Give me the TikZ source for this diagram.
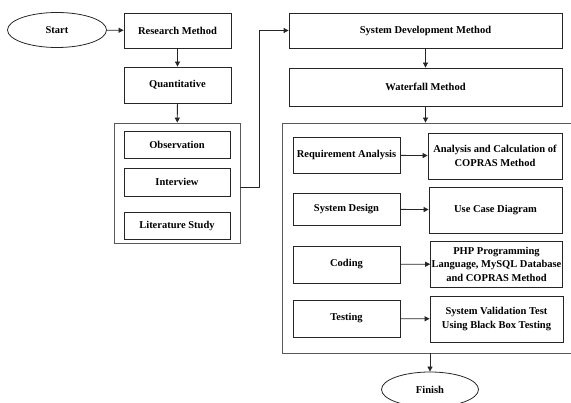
\documentclass[tikz,border=0pt]{standalone}
\usepackage{fontspec}
\setmainfont{Liberation Serif}
\usetikzlibrary{arrows.meta, positioning, shapes.geometric}

\begin{document}
\begin{tikzpicture}[
    x=1pt, y=-1pt,
    box/.style={draw=black!85, line width=0.8pt, minimum width=107pt, minimum height=36pt, inner sep=1pt, align=center, font=\fontsize{10.5}{13.5}\selectfont\bfseries},
    wide/.style={box, minimum width=133pt, minimum height=46pt},
    terminal/.style={ellipse, draw=black!85, line width=0.8pt, minimum width=99pt, minimum height=35pt, inner sep=0pt, font=\fontsize{10.5}{13.5}\selectfont\bfseries},
    group/.style={draw=black!65, line width=0.8pt},
    arrow/.style={-{Triangle[length=5pt, width=5pt]}, line width=0.8pt, black!85}
]
    \useasboundingbox (0,0) rectangle (571,403);

    % Left column
    \node[terminal] (start) at (57,30) {Start};
    \node[box, minimum height=35pt] (research) at (177.5,30.5) {Research Method};
    \node[box] (quant) at (177.5,85) {Quantitative};
    \node[group, minimum width=126pt, minimum height=120pt] (collect) at (177,183) {};
    \node[box, minimum width=106pt, minimum height=27pt] (observe) at (177,144.5) {Observation};
    \node[box, minimum width=106pt, minimum height=28pt] (interview) at (177,182) {Interview};
    \node[box, minimum width=106pt, minimum height=27pt] (literature) at (177,225.5) {Literature Study};

    % Right column
    \node[box, minimum width=273pt, minimum height=35pt] (sysdev) at (425.5,30.5) {System Development Method};
    \node[box, minimum width=273pt, minimum height=38pt] (waterfall) at (425.5,87) {Waterfall Method};
    \node[group, minimum width=308pt, minimum height=230pt] (phases) at (436,238) {};

    % Waterfall phases
    \node[box] (reqan) at (346.5,155) {Requirement Analysis};
    \node[wide, minimum width=134pt] (copras) at (495,156) {Analysis and Calculation of\\COPRAS Method};
    \node[box, minimum height=32pt] (design) at (346.5,209) {System Design};
    \node[wide] (usecase) at (495.5,210) {Use Case Diagram};
    \node[box, minimum height=37pt] (coding) at (346.5,264.5) {Coding};
    \node[wide, minimum width=131pt] (php) at (496.5,264) {PHP Programming\\Language, MySQL Database\\and COPRAS Method};
    \node[box, minimum height=37pt] (testing) at (346.5,318.5) {Testing};
    \node[wide] (validation) at (496.5,319) {System Validation Test\\Using Black Box Testing};

    \node[terminal, minimum width=97pt] (finish) at (430,389.5) {Finish};

    % Arrows
    \draw[arrow] (start) -- (research);
    \draw[arrow] (research) -- (quant);
    \draw[arrow] (quant) -- (collect);
    \draw[arrow] ([yshift=-4pt]collect.east) -- ++(19,0) |- (sysdev.west);
    \draw[arrow] (sysdev) -- (waterfall);
    \draw[arrow] (waterfall) -- (waterfall |- phases.north);
    \draw[arrow] (reqan) -- (copras);
    \draw[arrow] (design) -- (usecase);
    \draw[arrow] (coding) -- (php);
    \draw[arrow] (testing) -- (validation);
    \draw[arrow] (finish |- phases.south) -- (finish);
\end{tikzpicture}
\end{document}
